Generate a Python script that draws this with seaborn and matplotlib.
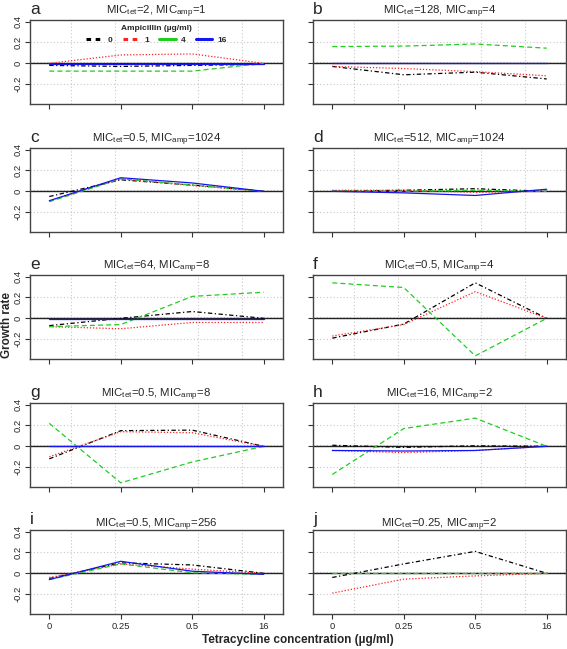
import numpy as np
import pandas as pd
import matplotlib
matplotlib.use("Agg")
import matplotlib.pyplot as plt
from matplotlib.lines import Line2D
import seaborn as sns

sns.set_theme(style="white")
plt.rcParams['font.family'] = ['Liberation Sans', 'DejaVu Sans']
plt.rcParams['mathtext.fontset'] = 'custom'
plt.rcParams['mathtext.rm'] = 'Liberation Sans'
plt.rcParams['mathtext.it'] = 'Liberation Sans:italic'

# ---- data ----
tet_labels = ["0", "0.25", "0.5", "16"]
amp_levels = ["0", "1", "4", "16"]
panel_letters = ["a", "b", "c", "d", "e", "f", "g", "h", "i", "j"]
mic_tet = ["2", "128", "0.5", "512", "64", "0.5", "0.5", "16", "0.5", "0.25"]
mic_amp = ["1", "4", "1024", "1024", "8", "4", "8", "2", "256", "2"]

# growth rates per panel, per ampicillin level, over tetracycline levels
amp0 = [
    [-0.02, -0.03, -0.02, -0.01],
    [-0.03, -0.11, -0.085, -0.15],
    [-0.05, 0.11, 0.06, 0.0],
    [0.0, 0.01, 0.025, 0.0],
    [-0.07, 0.0, 0.065, 0.0],
    [-0.19, -0.055, 0.34, 0.0],
    [-0.12, 0.15, 0.155, 0.0],
    [0.01, -0.01, 0.005, 0.0],
    [-0.05, 0.10, 0.08, 0.0],
    [-0.04, 0.09, 0.21, 0.0],
]
amp1 = [
    [0.0, 0.08, 0.09, 0.0],
    [-0.03, -0.05, -0.08, -0.12],
    [-0.09, 0.12, 0.055, 0.0],
    [0.01, 0.01, -0.01, 0.0],
    [-0.08, -0.10, -0.04, -0.04],
    [-0.17, -0.06, 0.255, 0.0],
    [-0.10, 0.14, 0.13, 0.0],
    [-0.04, -0.06, -0.04, 0.0],
    [-0.04, 0.09, 0.04, 0.0],
    [-0.19, -0.056, -0.025, 0.0],
]
amp4 = [
    [-0.075, -0.075, -0.075, 0.0],
    [0.16, 0.165, 0.185, 0.145],
    [-0.10, 0.12, 0.06, 0.0],
    [0.0, 0.0, 0.01, 0.0],
    [-0.08, -0.06, 0.21, 0.25],
    [0.34, 0.295, -0.36, 0.0],
    [0.22, -0.35, -0.15, 0.0],
    [-0.27, 0.17, 0.27, 0.0],
    [-0.06, 0.09, 0.005, -0.01],
    [0.0, 0.0, 0.0, 0.0],
]
amp16 = [
    [-0.01, -0.01, -0.01, -0.01],
    [0.0, 0.0, 0.0, 0.0],
    [-0.09, 0.13, 0.08, 0.0],
    [0.0, -0.015, -0.04, 0.02],
    [-0.01, -0.01, -0.01, -0.01],
    [np.nan, np.nan, np.nan, np.nan],
    [0.0, 0.0, 0.0, 0.0],
    [-0.04, -0.045, -0.04, 0.0],
    [-0.06, 0.115, 0.02, -0.01],
    [np.nan, np.nan, np.nan, np.nan],
]

rows = []
for p, letter in enumerate(panel_letters):
    for amp, series in zip(amp_levels, [amp0, amp1, amp4, amp16]):
        for xi, v in enumerate(series[p]):
            rows.append(dict(panel=letter, amp=amp, tet=xi, rate=v))
df = pd.DataFrame(rows)

palette = {"0": "black", "1": "#FF2020", "4": "#22CC22", "16": "#1515F0"}
dashes = {"0": (3.5, 2, 1, 2), "1": (1, 1.5), "4": (4, 2.5), "16": ""}

W, H = 567, 649
fig = plt.figure(figsize=(W / 100, H / 100), dpi=100)

col_left = [30, 313]
row_top = [20, 148, 275, 403, 530]
aw, ah = 253, 84

for p, letter in enumerate(panel_letters):
    r, c = divmod(p, 2)
    left = col_left[c] / W
    bottom = 1 - (row_top[r] + ah) / H
    ax = fig.add_axes([left, bottom, aw / W, ah / H])
    sub = df[df.panel == letter].dropna()
    # grid
    for gx in [0.3, 0.92, 2.08, 2.7]:
        ax.axvline(gx, color="#C8C8C8", lw=0.8, ls=(0, (1, 2)), zorder=0)
    for gy in [-0.2, 0.015, 0.2]:
        ax.axhline(gy, color="#C8C8C8", lw=0.8, ls=(0, (1, 2)), zorder=0)
    ax.axhline(0, color="#222222", lw=1.0, zorder=1)
    sns.lineplot(data=sub, x="tet", y="rate", hue="amp", style="amp",
                 hue_order=amp_levels, style_order=amp_levels,
                 palette=palette, dashes=dashes, lw=0.9,
                 legend=False, ax=ax, zorder=3, estimator=None)
    ax.set_xlim(-0.27, 3.27)
    ax.set_ylim(-0.39, 0.415)
    ax.set_xticks(range(4))
    ax.set_yticks([-0.2, 0, 0.2, 0.4])
    ax.set_xlabel("")
    ax.set_ylabel("")
    ax.tick_params(axis="both", direction="out", length=3.5, width=0.8,
                   color="#333333", labelsize=6.8, pad=2,
                   bottom=True, left=True)
    if r == 4:
        ax.set_xticklabels(tet_labels)
    else:
        ax.set_xticklabels([])
    if c == 0:
        ax.set_yticklabels(["-0.2", "0", "0.2", "0.4"], rotation=90, va="center")
    else:
        ax.set_yticklabels([])
    for s in ax.spines.values():
        s.set_color("#444444")
        s.set_linewidth(1.0)
    ax.set_title(r"MIC$_{\mathrm{tet}}$=" + mic_tet[p] + r", MIC$_{\mathrm{amp}}$=" + mic_amp[p],
                 fontsize=8.2, pad=2)
    ax.text(0.0, 1.04, letter, transform=ax.transAxes, fontsize=12.5,
            ha="left", va="bottom")
    if p == 0:
        handles = [
            Line2D([], [], color="black", lw=2.2, dashes=(1.5, 1.5)),
            Line2D([], [], color="#FF2020", lw=2.2, dashes=(1.5, 1.5)),
            Line2D([], [], color="#22CC22", lw=2.2),
            Line2D([], [], color="#1515F0", lw=2.2),
        ]
        leg = ax.legend(handles, amp_levels, ncol=4, loc="upper center",
                        bbox_to_anchor=(0.5, 1.03), frameon=False,
                        fontsize=6, title="Ampicillin (µg/ml)",
                        title_fontsize=6, handlelength=2.0,
                        columnspacing=1.2, handletextpad=0.6)
        leg.get_title().set_fontweight("bold")
        for t in leg.get_texts():
            t.set_fontweight("bold")

fig.text(0.012, 0.5, "Growth rate", rotation=90, va="center", ha="center",
         fontsize=8.5, fontweight="bold")
fig.text(298 / W, 1 - 640 / H, "Tetracycline concentration (µg/ml)",
         ha="center", va="center", fontsize=8.5, fontweight="bold")

fig.savefig("out.png", dpi=100)
